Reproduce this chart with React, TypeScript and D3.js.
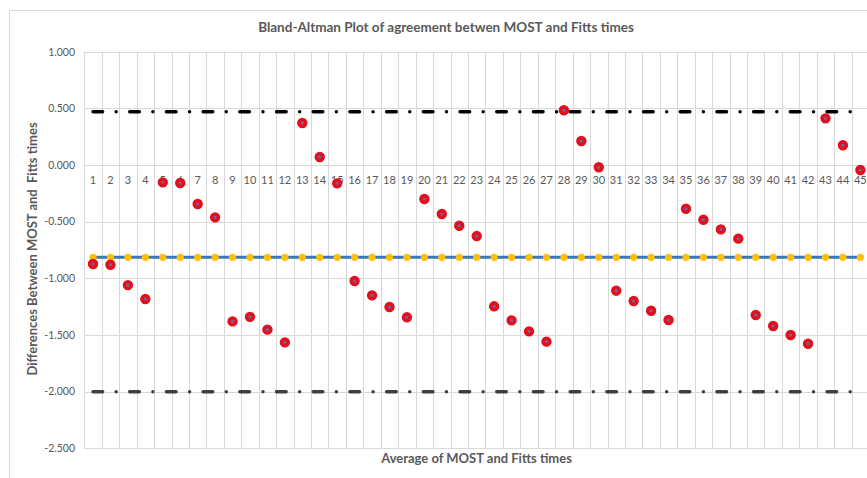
import React from "react";
import * as d3 from "d3";

const categories: string[] = d3.range(1, 46).map((d) => String(d));
const differences: number[] = [
  -0.874, -0.88, -1.06, -1.183, -0.153, -0.159, -0.344, -0.462, -1.38, -1.34,
  -1.453, -1.565, 0.371, 0.071, -0.162, -1.024, -1.15, -1.253, -1.344, -0.3,
  -0.432, -0.536, -0.627, -1.247, -1.371, -1.468, -1.559, 0.483, 0.212, -0.02,
  -1.109, -1.2, -1.286, -1.368, -0.386, -0.483, -0.568, -0.65, -1.324, -1.421,
  -1.5, -1.577, 0.412, 0.174, -0.044,
];
const meanDiff = -0.815;
const upperLimit = 0.47;
const lowerLimit = -2.0;
const yTicks: number[] = [1, 0.5, 0, -0.5, -1, -1.5, -2, -2.5];

const W = 867;
const H = 478;
const m = { left: 84.3, right: 869.1, top: 51.7, bottom: 448.3 };
const FONT = "Lato, 'Liberation Sans', sans-serif";
const TXT = "#595959";
const GRID = "#d9d9d9";

export default function App() {
  const x = d3
    .scaleBand<string>()
    .domain(categories)
    .range([m.left, m.right])
    .paddingInner(0)
    .paddingOuter(0);
  const y = d3.scaleLinear().domain([-2.5, 1]).range([m.bottom, m.top]);
  const cx = (c: string) => (x(c) as number) + x.bandwidth() / 2;

  const first = cx(categories[0]);
  const last = cx(categories[categories.length - 1]);
  const hLine = d3.line<number>().x((d) => d).y(() => 0);

  const meanPath = d3
    .line<string>()
    .x((c) => cx(c))
    .y(() => y(meanDiff))(categories) as string;

  const dash = "9.6 13.55 0.001 13.55";

  return (
    <svg
      width={W}
      height={H}
      style={{ position: "absolute", left: 0, top: 0, background: "#fff" }}
    >
      {/* chart border */}
      <path d={`M9.5,${H} V10.5 H${W}`} fill="none" stroke={GRID} strokeWidth={1} />
      <text
        x={446}
        y={32}
        textAnchor="middle"
        fontFamily={FONT}
        fontWeight="bold"
        fontSize={13.5}
        fill={TXT}
      >
        Bland-Altman Plot of agreement betwen MOST and Fitts times
      </text>

      {/* horizontal grid */}
      {yTicks.map((t) => (
        <line
          key={"h" + t}
          x1={m.left}
          x2={m.right}
          y1={Math.round(y(t)) + 0.5}
          y2={Math.round(y(t)) + 0.5}
          stroke={GRID}
          strokeWidth={1}
        />
      ))}
      {/* vertical grid */}
      {categories.map((c) => (
        <line
          key={"v" + c}
          x1={Math.round(x(c) as number) + 0.5}
          x2={Math.round(x(c) as number) + 0.5}
          y1={m.top}
          y2={m.bottom}
          stroke={GRID}
          strokeWidth={1}
        />
      ))}

      {/* y tick labels */}
      {yTicks.map((t) => (
        <text
          key={"yl" + t}
          x={75}
          y={y(t) + 3.8}
          textAnchor="end"
          fontFamily={FONT}
          fontSize={10.5}
          fill={TXT}
        >
          {d3.format(".3f")(t).replace("−", "-")}
        </text>
      ))}

      {/* category labels along zero */}
      {categories.map((c) => (
        <text
          key={"xl" + c}
          x={cx(c)}
          y={y(0) + 18.5}
          textAnchor="middle"
          fontFamily={FONT}
          fontSize={11}
          fill={TXT}
        >
          {c}
        </text>
      ))}

      {/* limits of agreement */}
      <path
        d={hLine([first, last]) as string}
        transform={`translate(0,${y(upperLimit)})`}
        fill="none"
        stroke="#000"
        strokeWidth={3.5}
        strokeLinecap="round"
        strokeDasharray={dash}
      />
      <path
        d={hLine([first, last]) as string}
        transform={`translate(0,${y(lowerLimit)})`}
        fill="none"
        stroke="#3f3f3f"
        strokeWidth={3.5}
        strokeLinecap="round"
        strokeDasharray={dash}
      />

      {/* mean line */}
      <path d={meanPath} fill="none" stroke="#3c78b4" strokeWidth={3} />
      {categories.map((c) => (
        <circle key={"mm" + c} cx={cx(c)} cy={y(meanDiff)} r={3.6} fill="#ffc000" />
      ))}

      {/* differences */}
      {differences.map((v, i) => (
        <circle
          key={"d" + i}
          cx={cx(categories[i])}
          cy={y(v)}
          r={3.4}
          fill="#7462a8"
          stroke="#e3101c"
          strokeWidth={3.6}
        />
      ))}

      {/* axis titles */}
      <text
        transform={`translate(37,${249}) rotate(-90)`}
        textAnchor="middle"
        fontFamily={FONT}
        fontWeight="bold"
        fontSize={13}
        fill={TXT}
        style={{ whiteSpace: "pre" }}
      >
        {"Differences Between MOST and  Fitts times"}
      </text>
      <text
        x={476.5}
        y={463}
        textAnchor="middle"
        fontFamily={FONT}
        fontWeight="bold"
        fontSize={13}
        fill={TXT}
      >
        Average of MOST and Fitts times
      </text>
    </svg>
  );
}
